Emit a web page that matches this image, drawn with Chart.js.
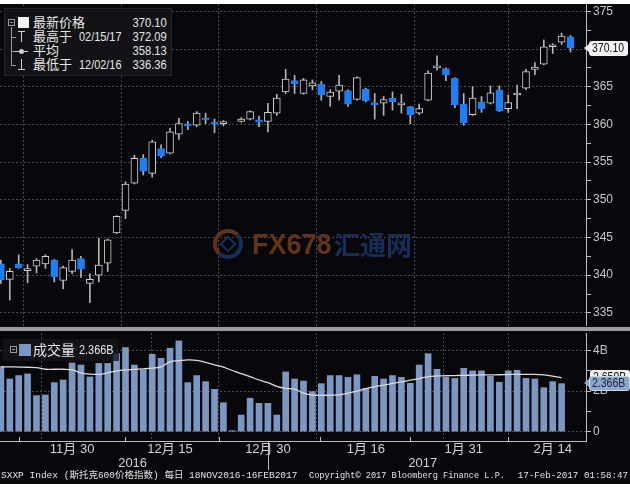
<!DOCTYPE html>
<html lang="zh">
<head>
<meta charset="utf-8">
<title>SXXP Index</title>
<script src="https://cdn.jsdelivr.net/npm/chart.js@4.4.1/dist/chart.umd.min.js"></script>
<style>
*{box-sizing:border-box;}
html,body{margin:0;padding:0;background:#fff;}
#wrap{position:relative;width:630px;height:490px;overflow:hidden;background:#fff;
  font-family:'Liberation Sans Narrow','Liberation Sans','Noto Sans CJK SC',sans-serif;}
#dark{position:absolute;left:0;top:4px;width:630px;height:480px;background:#08080c;}
#pcw{position:absolute;left:0;top:4px;width:630px;height:322px;}
#sep{position:absolute;left:0;top:327px;width:630px;height:4px;background:#9c9c9c;}
#vcw{position:absolute;left:0;top:332px;width:630px;height:140px;}
.a{position:absolute;white-space:nowrap;}
.lt{position:absolute;white-space:nowrap;color:#e6e6e6;font-size:13px;line-height:16px;height:16px;}
.nl{display:inline-block;transform:scaleX(0.84);transform-origin:left center;}
.nr{display:inline-block;transform:scaleX(0.86);transform-origin:right center;}
.ln{position:absolute;background:#9a9a9a;}
#lg{position:absolute;left:4px;top:8px;width:168px;height:68px;background:#131317;border:1px solid #24242a;}
#vlg{position:absolute;left:3px;top:339px;width:116px;height:22px;background:rgba(22,22,28,0.78);}
.tag{position:absolute;height:15px;line-height:15px;font-size:12.5px;padding:0 3px;border-radius:3px;}
#ptag{left:589px;width:39px;background:#f2f2f2;color:#111;}
#ptag:before{content:'';position:absolute;left:-5px;top:3px;border-top:4.5px solid transparent;border-bottom:4.5px solid transparent;border-right:5px solid #f2f2f2;}
#matag{left:590px;width:40px;background:#f0f0f0;color:#111;}
#vtag{left:589px;width:41px;background:#8ea6c9;color:#15253d;border:1px solid #c9d6e8;padding:0 2px;line-height:13px;}
#vtag:before{content:'';position:absolute;left:-6px;top:2px;border-top:4.5px solid transparent;border-bottom:4.5px solid transparent;border-right:5px solid #8ea6c9;}
.foot{position:absolute;top:469px;height:14px;line-height:14px;font-family:'Liberation Mono','Noto Sans CJK SC',monospace;font-size:9.5px;color:#e2e2e2;white-space:nowrap;}
</style>
</head>
<body>
<div id="wrap">
  <div id="dark"></div>
  <div id="pcw"><canvas id="pc"></canvas></div>
  <div id="sep"></div>
  <div id="vcw"><canvas id="vc"></canvas></div>

  <!-- watermark -->
  <div class="a" style="left:213px;top:229px;width:30px;height:30px;border-radius:50%;border:4px solid #5e341a;border-right-color:#1a2f58;border-bottom-color:#1a2f58;"></div>
  <div class="a" style="left:222px;top:238px;width:12px;height:12px;border:2px solid #1a2f58;transform:rotate(45deg);"></div>
  <div class="a" style="left:252px;top:227px;font-family:'Liberation Sans',sans-serif;font-weight:bold;font-size:29px;line-height:34px;color:#623519;"><span class="nl" style="transform:scaleX(0.93);">FX678</span></div>
  <div class="a" style="left:334px;top:228px;font-family:'Noto Sans CJK SC',sans-serif;font-weight:bold;font-size:26px;line-height:32px;color:#192d57;">汇通网</div>

  <!-- price legend -->
  <div id="lg"></div>
  <div class="a" style="left:8px;top:19px;width:7px;height:7px;border:1px solid #9a9a9a;"></div>
  <div class="ln" style="left:10px;top:22px;width:3px;height:1px;"></div>
  <div class="a" style="left:18px;top:17px;width:11px;height:11px;background:#f2f2f2;"></div>
  <div class="ln" style="left:11px;top:27px;width:1px;height:38px;"></div>
  <div class="ln" style="left:11px;top:37px;width:5px;height:1px;"></div>
  <div class="ln" style="left:11px;top:51px;width:5px;height:1px;"></div>
  <div class="ln" style="left:11px;top:65px;width:5px;height:1px;"></div>
  <div class="a" style="left:18px;top:31px;width:7px;height:1px;background:#cfcfcf;"></div>
  <div class="a" style="left:21px;top:31px;width:1px;height:11px;background:#cfcfcf;"></div>
  <div class="a" style="left:15px;top:51px;width:13px;height:1px;background:#cfcfcf;"></div>
  <div class="a" style="left:19px;top:49px;width:5px;height:5px;border-radius:50%;background:#cfcfcf;"></div>
  <div class="a" style="left:21px;top:59px;width:1px;height:11px;background:#cfcfcf;"></div>
  <div class="a" style="left:18px;top:69px;width:7px;height:1px;background:#cfcfcf;"></div>
  <div class="lt" style="left:33px;top:15px;">最新价格</div>
  <div class="lt" style="left:110px;top:15px;width:57px;text-align:right;"><span class="nr" id="lgLast"></span></div>
  <div class="lt" style="left:33px;top:29px;">最高于</div>
  <div class="lt" style="left:79px;top:29px;"><span class="nl">02/15/17</span></div>
  <div class="lt" style="left:110px;top:29px;width:57px;text-align:right;"><span class="nr" id="lgHigh"></span></div>
  <div class="lt" style="left:33px;top:43px;">平均</div>
  <div class="lt" style="left:110px;top:43px;width:57px;text-align:right;"><span class="nr" id="lgAvg"></span></div>
  <div class="lt" style="left:33px;top:57px;">最低于</div>
  <div class="lt" style="left:79px;top:57px;"><span class="nl">12/02/16</span></div>
  <div class="lt" style="left:110px;top:57px;width:57px;text-align:right;"><span class="nr" id="lgLow"></span></div>

  <!-- volume legend -->
  <div id="vlg"></div>
  <div class="a" style="left:10px;top:346px;width:7px;height:7px;border:1px solid #9a9a9a;"></div>
  <div class="ln" style="left:12px;top:349px;width:3px;height:1px;"></div>
  <div class="a" style="left:19px;top:344px;width:12px;height:12px;background:#7b97c2;"></div>
  <div class="lt" style="left:33px;top:342px;font-size:14px;">成交量</div>
  <div class="lt" style="left:79px;top:342px;"><span class="nl" id="vlgVal"></span></div>

  <!-- value tags -->
  <div class="tag" id="ptag"><span class="nl" id="ptagTxt"></span></div>
  <div class="tag" id="matag"><span class="nl" id="matagTxt"></span></div>
  <div class="tag" id="vtag"><span class="nl" id="vtagTxt"></span></div>

  <!-- footer -->
  <div class="foot" style="left:1px;">SXXP Index (斯托克600价格指数) 每日 18NOV2016-16FEB2017</div>
  <div class="foot" style="left:309px;font-size:8.6px;">Copyright© 2017 Bloomberg Finance L.P.</div>
  <div class="foot" style="right:2px;font-size:9.2px;">17-Feb-2017 01:58:47</div>
</div>

<script>
// ---------- data (one entry per weekday slot, 18 Nov 2016 .. 16 Feb 2017) ----------
const opens  = [341.5,339.45,341.5,340.6,341.2,341.5,342.0,339.3,340.5,342.2,338.9,340.0,341.6,345.6,348.6,352.2,355.5,353.5,356.8,356.2,
                358.7,360.0,359.9,360.8,360.3,360.1,null,360.4,360.7,360.6,360.4,361.5,364.3,365.8,364.1,365.1,365.3,363.7,364.4,364.5,
                363.3,364.65,362.9,362.8,363.46,362.6,362.35,361.5,363.2,367.5,367.4,366.1,362.7,361.3,363.0,362.8,364.6,362.1,363.9,364.8,
                367.3,368.0,370.3,370.9,371.6];
const highs  = [342.0,340.9,342.7,341.4,342.2,342.7,342.1,341.2,343.4,342.5,340.2,344.9,344.8,347.9,352.4,355.9,356.0,357.9,357.3,359.5,
                360.8,360.4,361.7,361.5,360.7,360.5,null,360.9,361.8,361.1,362.8,364.0,367.3,366.5,366.1,365.9,365.7,364.6,366.5,364.6,
                366.3,364.8,364.1,363.7,364.3,364.0,362.4,362.7,367.1,369.1,367.5,366.2,364.1,365.0,363.7,365.1,365.1,363.9,365.2,367.3,
                368.2,371.2,370.7,372.09,371.8];
const lows   = [338.9,336.7,340.9,339.0,340.3,340.9,339.1,338.2,340.2,339.7,336.36,339.1,340.5,345.5,347.5,352.1,353.3,353.0,355.6,356.1,
                358.0,359.3,359.7,360.1,358.9,359.8,null,360.3,360.6,359.7,359.0,361.2,364.1,364.1,364.0,364.6,363.2,362.4,363.2,362.4,
                363.2,363.0,360.7,361.2,361.9,361.5,360.1,361.3,363.1,367.2,365.8,362.2,359.9,361.2,361.6,362.7,361.7,361.6,362.1,364.6,
                366.6,367.9,369.4,370.6,369.6];
const closes = [339.4,340.5,341.0,340.7,342.0,342.5,339.8,341.0,342.0,340.8,339.45,341.35,344.7,347.8,352.1,355.5,353.8,357.7,355.8,359.0,
                360.1,359.8,361.5,360.6,360.05,360.2,null,360.7,361.7,360.3,361.6,363.5,366.0,365.4,365.9,365.5,363.9,364.3,365.2,362.7,
                366.2,363.15,362.6,363.3,363.0,362.7,361.25,362.1,366.8,367.6,366.55,362.6,360.2,363.5,362.1,364.2,361.8,362.9,364.0,367.0,
                367.6,370.3,370.4,371.7,370.1];
// volume in billions
const volumes = [3.2,2.6,2.77,2.85,1.78,1.81,2.42,2.55,3.39,3.29,2.7,3.37,3.37,3.85,4.15,3.29,3.05,3.82,3.62,4.12,
                 4.48,2.42,2.77,2.47,2.09,1.43,0.05,0.82,1.65,1.4,1.4,0.82,2.95,2.6,2.5,1.98,2.37,2.77,2.77,2.68,
                 2.81,2.14,2.73,2.6,2.77,2.68,2.39,3.29,3.85,3.08,2.68,2.63,3.13,3.0,3.0,2.73,2.44,3.0,3.03,2.63,
                 2.6,2.17,2.47,2.37,null];
const volumeMA = [3.20,3.20,3.19,3.18,3.16,3.08,3.08,3.08,3.05,2.90,2.84,2.83,2.90,3.00,3.05,3.07,3.10,3.14,3.20,3.45,
                  3.50,3.54,3.52,3.42,3.30,3.18,3.02,2.86,2.72,2.55,2.42,2.24,2.14,2.10,1.90,1.80,1.80,1.80,1.82,1.90,
                  2.00,2.12,2.22,2.30,2.38,2.46,2.54,2.62,2.72,2.75,2.76,2.77,2.78,2.79,2.80,2.80,2.81,2.82,2.83,2.83,
                  2.83,2.80,2.74,2.66];
const lastVolume = 2.366;   // billions
const maLabel = '2.659B';
const statLast = 370.10, statHigh = 372.09, statAvg = 358.13, statLow = 336.36;

// axis ticks
const majorTickSlots  = [8, 19, 30, 41, 52, 62];
const majorTickLabels = ['11月 30', '12月 15', '12月 30', '1月 16', '1月 31', '2月 14'];
const yearSlots  = [14.8, 47.4];
const yearLabels = ['2016', '2017'];
const minorTickSlots = [2, 14, 24.5, 35.8, 46, 57];
const yearBoundarySlot = 30;
const priceTicks  = [335, 340, 345, 350, 355, 360, 365, 370, 375];
const volumeTicks = [0, 1, 2, 3, 4];
const volumeTickLabels = ['0', '', '2B', '', '4B'];

// ---------- styling ----------
const X_MIN = -0.1, X_MAX = 65.74;
const P_MIN = 333.26, P_MAX = 375.97;
const V_MIN = -0.46, V_MAX = 4.87;
const BLUE = '#1e7ff5';
const gridGray = '#4a4a50';
const axisGray = '#bdbdbd';
const NARROW = "'Liberation Sans Narrow','Liberation Sans','Noto Sans CJK SC',sans-serif";

// ---------- build datasets ----------
const bodyData = [], wickData = [];
opens.forEach((o, i) => {
  if (o === null) return;
  bodyData.push({x: i, y: [o, closes[i]]});
  wickData.push({x: i, y: [lows[i], highs[i]]});
});
const volData = [];
volumes.forEach((v, i) => { if (v !== null) volData.push({x: i, y: v}); });
const maData = volumeMA.map((v, i) => ({x: i, y: v}));

const priceTickList = [];
priceTicks.forEach((v, i) => { priceTickList.push(v); if (i < priceTicks.length - 1) priceTickList.push((v + priceTicks[i + 1]) / 2); });

const isUp = c => c.raw && c.raw.y[1] >= c.raw.y[0];
const noColor = 'rgba(0,0,0,0)';

const pChart = new Chart(document.getElementById('pc'), {
  type: 'bar',
  data: {datasets: [
    {label: 'body', data: bodyData, grouped: false, order: 0, barThickness: 7, minBarLength: 2,
     borderWidth: 1, borderSkipped: false,
     backgroundColor: c => isUp(c) ? '#060608' : BLUE,
     borderColor: c => isUp(c) ? '#d0d0d0' : BLUE},
    {label: 'wick', data: wickData, grouped: false, order: 1, barThickness: 1,
     borderWidth: 0, backgroundColor: '#b4b4b4'}
  ]},
  options: {
    responsive: true, maintainAspectRatio: false, animation: false, events: [],
    layout: {padding: 0},
    plugins: {legend: {display: false}, tooltip: {enabled: false}},
    scales: {
      x: {type: 'linear', min: X_MIN, max: X_MAX, offset: false,
          afterBuildTicks: s => { s.ticks = majorTickSlots.map(v => ({value: v})); },
          afterFit: s => { s.height = 0; s.paddingLeft = 0; s.paddingRight = 0; },
          ticks: {display: false},
          grid: {color: gridGray, drawTicks: false, lineWidth: 1},
          border: {display: false, dash: [2, 2]}},
      y: {position: 'right', min: P_MIN, max: P_MAX,
          afterBuildTicks: s => { s.ticks = priceTickList.map(v => ({value: v})); },
          afterFit: s => { s.width = 44; s.paddingTop = 0; s.paddingBottom = 0; },
          ticks: {color: '#c6c6c6', font: {family: NARROW, size: 12}, padding: 2,
                  callback: v => priceTicks.includes(v) ? String(v) : ''},
          grid: {color: c => (c.tick && priceTicks.includes(c.tick.value)) ? gridGray : noColor,
                 tickColor: axisGray, tickLength: 5, tickBorderDash: [], lineWidth: 1},
          border: {display: true, color: axisGray, width: 1, dash: [2, 2]}}
    }
  }
});

const xTickList = majorTickSlots.concat(yearSlots).sort((a, b) => a - b);
const volExtras = {
  id: 'volExtras',
  afterDraw(chart) {
    const ctx = chart.ctx, xs = chart.scales.x, b = chart.chartArea.bottom;
    ctx.save();
    ctx.strokeStyle = axisGray; ctx.lineWidth = 1;
    minorTickSlots.forEach(v => {
      const px = Math.round(xs.getPixelForValue(v)) + 0.5;
      ctx.beginPath(); ctx.moveTo(px, b - 4); ctx.lineTo(px, b); ctx.stroke();
    });
    const bx = Math.round(xs.getPixelForValue(yearBoundarySlot)) + 0.5;
    ctx.beginPath(); ctx.moveTo(bx, b); ctx.lineTo(bx, b + 29); ctx.stroke();
    ctx.restore();
  }
};

const vChart = new Chart(document.getElementById('vc'), {
  type: 'bar',
  data: {datasets: [
    {type: 'line', label: 'MA', data: maData, order: 0, borderColor: '#dcdcdc', borderWidth: 1.3,
     pointRadius: 0, tension: 0.4, fill: false},
    {type: 'bar', label: '成交量', data: volData, order: 1, grouped: false, barThickness: 6,
     backgroundColor: '#7b97c2', borderWidth: 0}
  ]},
  options: {
    responsive: true, maintainAspectRatio: false, animation: false, events: [],
    layout: {padding: {top: 1}},
    plugins: {legend: {display: false}, tooltip: {enabled: false}},
    scales: {
      x: {type: 'linear', min: X_MIN, max: X_MAX, offset: false,
          afterBuildTicks: s => { s.ticks = xTickList.map(v => ({value: v})); },
          afterFit: s => { s.height = 31; s.paddingLeft = 0; s.paddingRight = 0; },
          ticks: {autoSkip: false, maxRotation: 0, minRotation: 0, color: '#d2d2d2', padding: 1,
                  font: {family: NARROW, size: 13, lineHeight: 1.1},
                  callback: v => {
                    const mi = majorTickSlots.indexOf(v);
                    if (mi >= 0) return majorTickLabels[mi];
                    const yi = yearSlots.indexOf(v);
                    return yi >= 0 ? ['', yearLabels[yi]] : '';
                  }},
          grid: {color: c => (c.tick && majorTickSlots.includes(c.tick.value)) ? gridGray : noColor,
                 drawTicks: false, lineWidth: 1},
          border: {display: true, color: axisGray, width: 1, dash: [2, 2]}},
      y: {position: 'right', min: V_MIN, max: V_MAX,
          afterBuildTicks: s => { s.ticks = volumeTicks.map(v => ({value: v})); },
          afterFit: s => { s.width = 44; s.paddingTop = 0; s.paddingBottom = 0; },
          ticks: {color: '#c6c6c6', font: {family: NARROW, size: 12}, padding: 2,
                  callback: v => volumeTickLabels[volumeTicks.indexOf(v)] || ''},
          grid: {color: c => (c.tick && volumeTickLabels[volumeTicks.indexOf(c.tick.value)]) ? gridGray : noColor,
                 tickColor: axisGray, tickLength: 5, tickBorderDash: [], lineWidth: 1},
          border: {display: true, color: axisGray, width: 1, dash: [2, 2]}}
    }
  },
  plugins: [volExtras]
});

// ---------- legend texts & value tags ----------
document.getElementById('lgLast').textContent = statLast.toFixed(2);
document.getElementById('lgHigh').textContent = statHigh.toFixed(2);
document.getElementById('lgAvg').textContent  = statAvg.toFixed(2);
document.getElementById('lgLow').textContent  = statLow.toFixed(2);
document.getElementById('vlgVal').textContent = lastVolume.toFixed(3) + 'B';

const pTop = document.getElementById('pcw').offsetTop;
const vTop = document.getElementById('vcw').offsetTop;
const ptag = document.getElementById('ptag');
document.getElementById('ptagTxt').textContent = closes[closes.length - 1].toFixed(2);
ptag.style.top = (pTop + pChart.scales.y.getPixelForValue(closes[closes.length - 1]) - 7.5) + 'px';
const matag = document.getElementById('matag');
document.getElementById('matagTxt').textContent = maLabel;
matag.style.top = (vTop + vChart.scales.y.getPixelForValue(volumeMA[volumeMA.length - 1]) - 7.5) + 'px';
const vtag = document.getElementById('vtag');
document.getElementById('vtagTxt').textContent = lastVolume.toFixed(3) + 'B';
vtag.style.top = (vTop + vChart.scales.y.getPixelForValue(lastVolume) - 7.5) + 'px';
</script>
</body>
</html>
